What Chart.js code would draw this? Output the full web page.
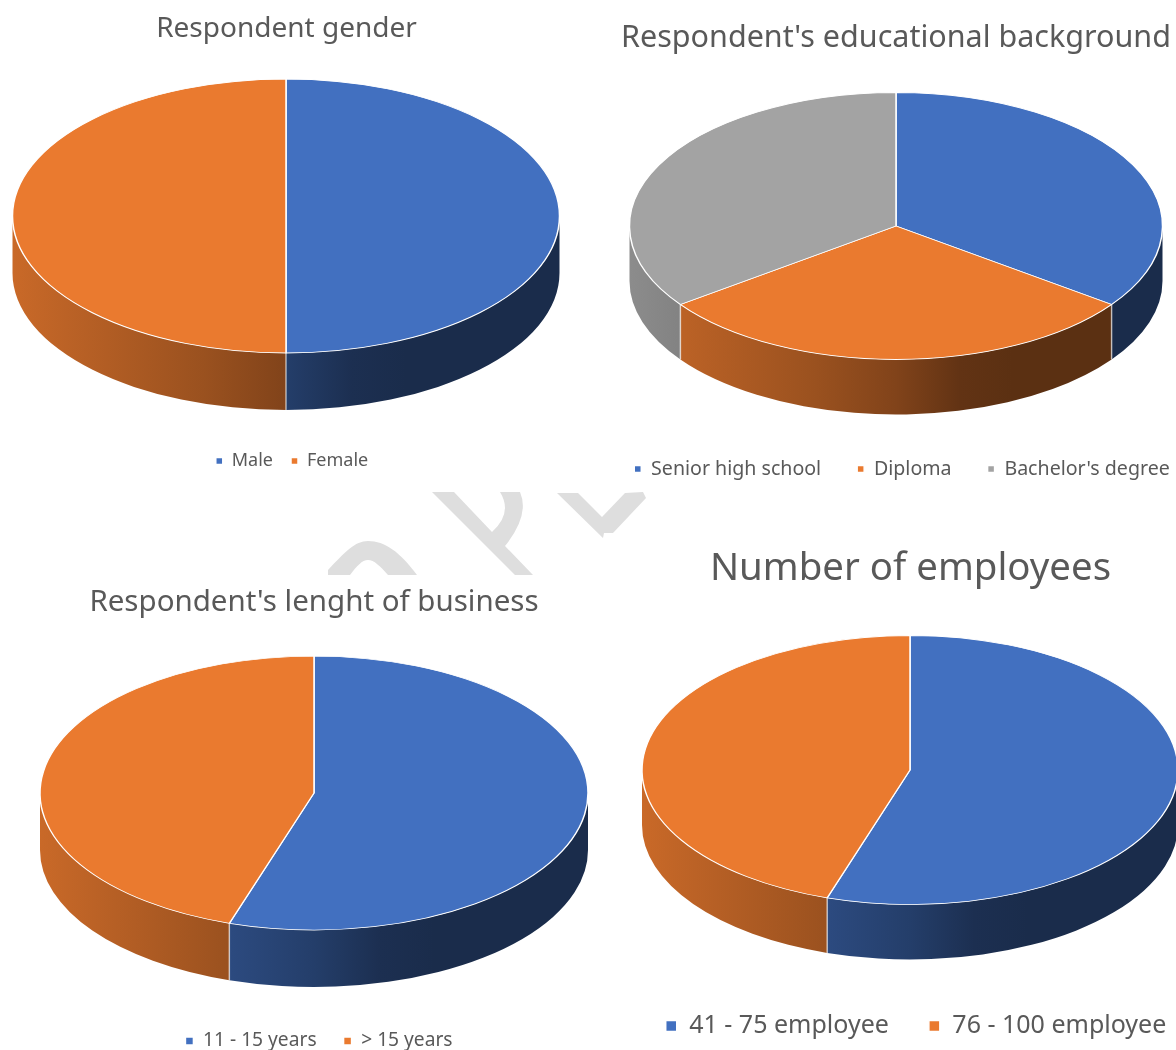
<!DOCTYPE html>
<html>
<head>
<meta charset="utf-8">
<title>Respondent profile</title>
<script src="https://cdn.jsdelivr.net/npm/chart.js@4"></script>
<style>
  html, body { margin: 0; padding: 0; background: #fff; }
  #page { position: relative; width: 1176px; height: 1050px; overflow: hidden; }
  #page canvas { position: absolute; }
  #stamp { position: absolute; left: 0; top: 0; }
</style>
</head>
<body>
<div id="page">
  <svg id="stamp" width="1176" height="1050">
    <g fill="#dedede">
      <path d="M328,575 L328,570 C345,552 355,541 368,541 C385,541 400,552 417,575 L388,575 C380,566 374,560 368,560 C362,560 357,566 350,575 Z"/>
      <path d="M432,492 L454,492 L492,532 Q513,513 500,492 L520,492 Q530,515 505,546 L533,575 L515,575 Z"/>
      <path d="M557,493 L578,493 L602,517 L625,493 L643,492 L646,498 L613,533 L604,533 L603,538 Z"/>
    </g>
  </svg>
</div>
<script>
// Survey tallies, in percent of respondents
const genderLabels = ['Male', 'Female'];
const genderValues = [50, 50];
const educationLabels = ['Senior high school', 'Diploma', "Bachelor's degree"];
const educationValues = [35, 30, 35];
const businessLabels = ['11 - 15 years', '> 15 years'];
const businessValues = [55, 45];
const employeeLabels = ['41 - 75 employee', '76 - 100 employee'];
const employeeValues = [55, 45];

const sliceColors = ['#4270c0', '#ea7a2f', '#a3a3a3'];
const inkColor = '#595959';
const fontFamily = '"Noto Sans", sans-serif';

// Shading of the rim from the left edge of the disc to the right edge
const rimShade = [[0, .86], [.1, .8], [.35, .66], [.5, .55], [.62, .42], [.72, .39], [1, .39]];

function shaded(hex, f) {
  const n = parseInt(hex.slice(1), 16);
  const c = [(n >> 16) & 255, (n >> 8) & 255, n & 255].map(v => Math.round(v * f));
  return `rgb(${c[0]},${c[1]},${c[2]})`;
}

// Tilts the flat pie into a disc with a shaded rim and puts title and legend in place
const tiltedDisc = {
  id: 'tiltedDisc',
  afterLayout(chart, args, o) {
    const t = chart.titleBlock, l = chart.legend;
    const titleLine = o.titleSize * 1.2;
    t.left = o.titleX - 2000; t.right = o.titleX + 2000; t.top = o.titleY - titleLine / 2;
    const pad = chart.options.plugins.legend.labels.padding;
    l.left = o.legendX - 2000; l.right = o.legendX + 2000; l.top = o.legendY - pad - o.legendSize / 2;
  },
  beforeDatasetsDraw(chart, args, o) {
    const ctx = chart.ctx;
    const arcs = chart.getDatasetMeta(0).data;
    const rx = arcs[0].outerRadius, ry = rx * o.tilt;
    const colors = chart.data.datasets[0].backgroundColor;
    ctx.save();
    arcs.forEach((arc, i) => {
      const a0 = Math.max(arc.startAngle, 0), a1 = Math.min(arc.endAngle, Math.PI);
      if (a1 <= a0) return;
      const grad = ctx.createLinearGradient(o.cx - rx, 0, o.cx + rx, 0);
      rimShade.forEach(([t, f]) => grad.addColorStop(t, shaded(colors[i], f)));
      ctx.beginPath();
      ctx.ellipse(o.cx, o.cy, rx, ry, 0, a0, a1);
      ctx.ellipse(o.cx, o.cy + o.depth, rx, ry, 0, a1, a0, true);
      ctx.closePath();
      ctx.fillStyle = grad;
      ctx.fill();
    });
    ctx.strokeStyle = 'rgba(255,255,255,.6)';
    ctx.lineWidth = 1.5;
    arcs.forEach(arc => {
      const a = arc.endAngle;
      if (a <= 0 || a >= Math.PI) return;
      const x = o.cx + rx * Math.cos(a), y = o.cy + ry * Math.sin(a);
      ctx.beginPath();
      ctx.moveTo(x, y);
      ctx.lineTo(x, y + o.depth);
      ctx.stroke();
    });
    ctx.restore();
    ctx.save();
    ctx.translate(o.cx, o.cy);
    ctx.scale(1, o.tilt);
    ctx.translate(-arcs[0].x, -arcs[0].y);
  },
  afterDatasetsDraw(chart) {
    chart.ctx.restore();
  }
};

function addPie(box, titleText, labels, values, look) {
  const canvas = document.createElement('canvas');
  canvas.width = box.w; canvas.height = box.h;
  canvas.style.left = box.x + 'px';
  canvas.style.top = box.y + 'px';
  document.getElementById('page').appendChild(canvas);
  new Chart(canvas, {
    type: 'pie',
    data: {
      labels,
      datasets: [{
        data: values,
        backgroundColor: sliceColors.slice(0, values.length),
        borderColor: '#fff',
        borderWidth: 1.5,
        clip: false
      }]
    },
    options: {
      responsive: false,
      animation: false,
      events: [],
      radius: look.rx,
      plugins: {
        title: {
          display: true, text: titleText, color: inkColor, padding: 0,
          font: { family: fontFamily, size: look.titleSize, weight: 'normal' }
        },
        legend: {
          position: 'bottom',
          labels: {
            color: inkColor, boxWidth: look.marker, boxHeight: look.marker, padding: look.gap,
            font: { family: fontFamily, size: look.legendSize }
          }
        },
        tooltip: { enabled: false },
        tiltedDisc: {
          cx: look.cx - box.x, cy: look.cy - box.y, depth: look.depth, tilt: look.ry / look.rx,
          titleX: look.titleX - box.x, titleY: look.titleY - box.y, titleSize: look.titleSize,
          legendX: look.legendX - box.x, legendY: look.legendY - box.y, legendSize: look.legendSize
        }
      }
    },
    plugins: [tiltedDisc]
  });
}

addPie({ x: 0, y: 0, w: 615, h: 490 }, 'Respondent gender', genderLabels, genderValues,
  { cx: 286, cy: 216, rx: 273.5, ry: 137, depth: 57, titleX: 286.5, titleY: 29, titleSize: 28,
    legendX: 292, legendY: 461, legendSize: 18, gap: 18, marker: 7 });
addPie({ x: 615, y: 0, w: 800, h: 490 }, "Respondent's educational background", educationLabels, educationValues,
  { cx: 896, cy: 226, rx: 266.5, ry: 133.5, depth: 55, titleX: 896, titleY: 38, titleSize: 30.5,
    legendX: 902, legendY: 469, legendSize: 19.6, gap: 36, marker: 7 });
addPie({ x: 0, y: 575, w: 625, h: 475 }, "Respondent's lenght of business", businessLabels, businessValues,
  { cx: 314, cy: 793, rx: 274, ry: 137, depth: 57, titleX: 314, titleY: 603, titleSize: 29.5,
    legendX: 319, legendY: 1041, legendSize: 19.2, gap: 27, marker: 8 });
addPie({ x: 625, y: 535, w: 800, h: 515 }, 'Number of employees', employeeLabels, employeeValues,
  { cx: 910, cy: 770, rx: 268, ry: 134.5, depth: 55, titleX: 910.5, titleY: 569, titleSize: 38.4,
    legendX: 916, legendY: 1026, legendSize: 25, gap: 40, marker: 11 });
</script>
</body>
</html>
